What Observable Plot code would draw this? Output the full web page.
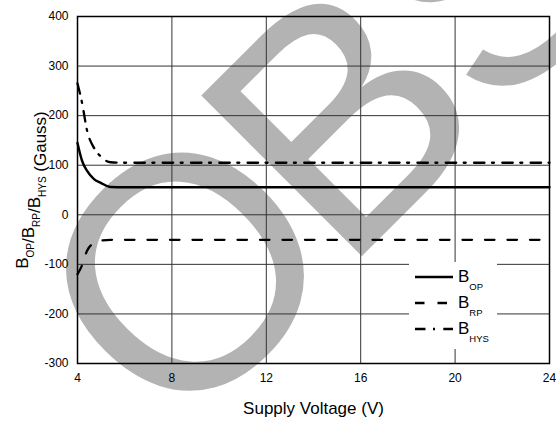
<!DOCTYPE html>
<html>
<head>
<meta charset="utf-8">
<script src="https://cdn.jsdelivr.net/npm/d3@7"></script>
<script src="https://cdn.jsdelivr.net/npm/@observablehq/plot@0.6"></script>
<style>
  html, body { margin: 0; padding: 0; background: #fff; }
  #chart svg { display: block; }
</style>
</head>
<body>
<div id="chart"></div>
<script>
// ---- data ----
const voltage = [4, 4.2, 4.4, 4.7, 5, 5.4, 6, 8, 12, 16, 20, 24];
const bOP  = [145, 108, 89, 72, 64, 56, 55.5, 55.5, 55.5, 55.5, 55.5, 55.5];
const bRP  = [-120, -101, -73, -57, -52, -50.5, -50.5, -50.5, -50.5, -50.5, -50.5, -50.5];
const bHYS = [265, 224, 171, 135, 117, 106, 105, 105, 105, 105, 105, 105];
const xTicks = [4, 8, 12, 16, 20, 24];
const yTicks = [-300, -200, -100, 0, 100, 200, 300, 400];
const seriesNames = ["OP", "RP", "HYS"];
const xLabel = "Supply Voltage (V)";
const yLabelUnit = "(Gauss)";
const watermark = ["O", "B", "S"];

const rows = voltage.map((v, i) => ({v, op: bOP[i], rp: bRP[i], hys: bHYS[i]}));

const dashRP = "9.5,13";
const dashHYS = "10.5,7.5,2,8.3";
const font = "'Liberation Sans', Arial, Helvetica, sans-serif";

const chart = Plot.plot({
  width: 556,
  height: 421,
  marginLeft: 77,
  marginRight: 7,
  marginTop: 16,
  marginBottom: 58,
  style: {fontFamily: font, fontSize: "12px", color: "#000", background: "transparent"},
  x: {domain: [4, 24], label: null},
  y: {domain: [-300, 400], label: null},
  marks: [
    Plot.gridX(xTicks, {stroke: "#333", strokeOpacity: 1, strokeWidth: 1}),
    Plot.gridY(yTicks, {stroke: "#333", strokeOpacity: 1, strokeWidth: 1}),
    Plot.axisX({ticks: xTicks, tickSize: 0, tickPadding: 10, fontSize: 12, tickFormat: d => String(d), label: null}),
    Plot.axisY({ticks: yTicks, tickSize: 0, tickPadding: 9, fontSize: 12, tickFormat: d => String(d), label: null}),
    Plot.line(rows, {x: "v", y: "op", stroke: "#000", strokeWidth: 2.4, curve: "monotone-x"}),
    Plot.line(rows, {x: "v", y: "rp", stroke: "#000", strokeWidth: 2.3, strokeDasharray: dashRP, curve: "monotone-x"}),
    Plot.line(rows, {x: "v", y: "hys", stroke: "#000", strokeWidth: 2.3, strokeDasharray: dashHYS, curve: "monotone-x"}),
    Plot.frame({stroke: "#000", strokeWidth: 1.5})
  ]
});

document.getElementById("chart").appendChild(chart);
const svg = d3.select(chart);

// watermark behind everything (letters along a -45° baseline)
const wm = svg.insert("g", ":first-child")
  .attr("transform", "translate(342.7,275.3) rotate(-45)")
  .attr("font-family", font)
  .attr("font-size", 330)
  .attr("fill", "#b3b3b3")
  .attr("text-anchor", "start");
const wmX = [-237, 0, 214];
watermark.forEach((ch, i) => wm.append("text").attr("x", wmX[i]).attr("y", 0).text(ch));
svg.insert("rect", ":first-child")
  .attr("width", 556).attr("height", 421).attr("fill", "#fff");

// x label
svg.append("text")
  .attr("x", 313.5).attr("y", 414)
  .attr("text-anchor", "middle")
  .attr("font-family", font).attr("font-size", 17)
  .attr("fill", "#000")
  .text(xLabel);

// y label with subscripts
const yl = svg.append("text")
  .attr("transform", "translate(28,190) rotate(-90)")
  .attr("text-anchor", "middle")
  .attr("font-family", font).attr("font-size", 17)
  .attr("fill", "#000");
seriesNames.forEach((s, i) => {
  yl.append("tspan").text((i ? "/" : "") + "B");
  yl.append("tspan").attr("font-size", 10).attr("dy", 6).text(s);
  yl.append("tspan").attr("dy", -6).text("");
});
yl.append("tspan").text(" " + yLabelUnit);

// legend
const lg = svg.append("g");
lg.append("rect").attr("x", 409).attr("y", 262).attr("width", 88).attr("height", 87).attr("fill", "#fff");
const dashes = [null, dashRP, dashHYS];
seriesNames.forEach((s, i) => {
  const by = 282 + i * 26;
  lg.append("line")
    .attr("x1", 415).attr("x2", 453).attr("y1", by - 5).attr("y2", by - 5)
    .attr("stroke", "#000").attr("stroke-width", 2.4)
    .attr("stroke-dasharray", dashes[i]);
  const t = lg.append("text").attr("x", 458).attr("y", by)
    .attr("text-anchor", "start")
    .attr("font-family", font).attr("font-size", 17).attr("fill", "#000");
  t.append("tspan").text("B");
  t.append("tspan").attr("font-size", 9.5).attr("dy", 7.5).text(s);
});
</script>
</body>
</html>
